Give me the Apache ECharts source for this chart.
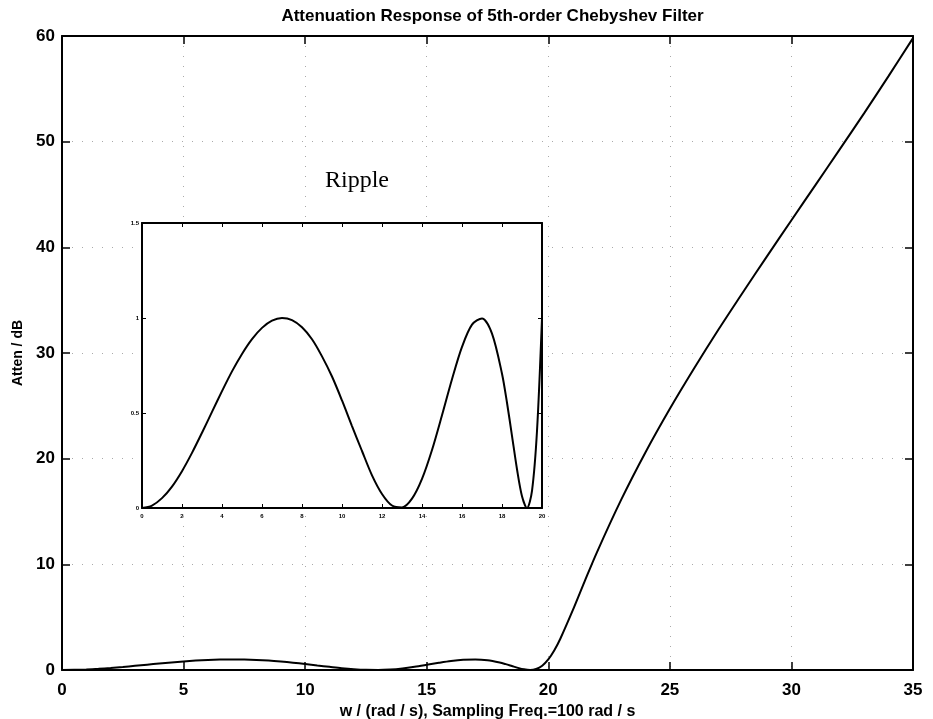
<!DOCTYPE html>
<html>
<head>
<meta charset="utf-8">
<script src="https://cdn.jsdelivr.net/npm/echarts@6/dist/echarts.min.js"></script>
<style>
  html, body { margin: 0; padding: 0; background: #fff; }
  #chart { width: 933px; height: 719px; }
</style>
</head>
<body>
<div id="chart"></div>
<script>
// Passband of the 5th-order Chebyshev filter (1 dB ripple), w in rad/s, attenuation in dB
const passW = [0, 0.5, 1, 1.5, 2, 2.5, 3, 3.5, 4, 4.5, 5, 5.5, 6, 6.5, 7, 7.5, 8, 8.5, 9, 9.5,
  10, 10.5, 11, 11.5, 12, 12.5, 13, 13.5, 14, 14.5, 15, 15.5, 16, 16.5, 17, 17.5, 18,
  18.25, 18.5, 18.75, 19, 19.25, 19.5, 19.75, 20];
const passA = [0, 0.013, 0.052, 0.113, 0.194, 0.290, 0.396, 0.506, 0.615, 0.719, 0.811, 0.889,
  0.948, 0.986, 1.000, 0.989, 0.951, 0.888, 0.798, 0.692, 0.566, 0.431, 0.300, 0.172, 0.074,
  0.013, 0.003, 0.049, 0.153, 0.305, 0.488, 0.678, 0.848, 0.965, 0.998, 0.918, 0.707,
  0.554, 0.380, 0.204, 0.062, 0.000, 0.090, 0.405, 1.000];

// Stopband
const stopW = [20.25, 20.5, 21, 21.5, 22, 23, 24, 25, 26, 27, 28, 29, 30, 31, 32, 33, 34, 35];
const stopA = [1.87, 2.98, 5.61, 8.41, 11.14, 16.12, 20.61, 24.72, 28.55, 32.22, 35.73, 39.17,
  42.56, 45.94, 49.32, 52.72, 56.23, 59.80];

// Axis ticks
const mainXTicks = [0, 5, 10, 15, 20, 25, 30, 35];
const mainYTicks = [0, 10, 20, 30, 40, 50, 60];
const insetXTicks = [0, 2, 4, 6, 8, 10, 12, 14, 16, 18, 20];
const insetYTicks = [0, 0.5, 1, 1.5];

const titleText = 'Attenuation Response of 5th-order Chebyshev Filter';
const xName = 'w / (rad / s), Sampling Freq.=100 rad / s';
const yName = 'Atten / dB';
const insetTitle = 'Ripple';

// Layout
const MAIN = { left: 62, top: 36, width: 851, height: 634 };
const INSET = { left: 142, top: 223, width: 400, height: 285 };

const FONT = '"Liberation Sans", Arial, Helvetica, sans-serif';

const mainData = passW.concat(stopW).map((w, i) => [w, passA.concat(stopA)[i]]);
const insetData = passW.map((w, i) => [w, passA[i]]);

function boxAxis(gridIndex, pos, range, ticks, opts) {
  const step = ticks[1] - ticks[0];
  return Object.assign({
    type: 'value',
    gridIndex: gridIndex,
    position: pos,
    min: range[0],
    max: range[1],
    interval: step,
    axisLine: { show: true, onZero: false, lineStyle: { color: '#000', width: 2 } },
    axisTick: { show: true, inside: true, length: 8, lineStyle: { color: '#000', width: 1.5 } },
    splitLine: { show: false },
    axisLabel: { show: false }
  }, opts || {});
}

const labelStyle = (size) => ({
  show: true, color: '#000', fontFamily: FONT, fontWeight: 'bold', fontSize: size
});

const dotted = { show: true, lineStyle: { color: '#aaa', width: 1, type: [1, 9] } };
const smallTick = { show: true, inside: true, length: 4, lineStyle: { color: '#000', width: 1 } };

const option = {
  backgroundColor: '#fff',
  animation: false,
  title: {
    text: titleText,
    left: MAIN.left + MAIN.width / 2,
    textAlign: 'center',
    top: 3,
    textStyle: { fontFamily: FONT, fontWeight: 'bold', fontSize: 17, color: '#000' }
  },
  grid: [
    { left: MAIN.left, top: MAIN.top, width: MAIN.width, height: MAIN.height,
      containLabel: false, outerBoundsMode: 'none' },
    { left: INSET.left, top: INSET.top, width: INSET.width, height: INSET.height,
      containLabel: false, outerBoundsMode: 'none' }
  ],
  xAxis: [
    boxAxis(0, 'bottom', [0, 35], mainXTicks, {
      axisLabel: Object.assign(labelStyle(17), { margin: 12 }),
      splitLine: dotted,
      name: xName,
      nameLocation: 'middle',
      nameGap: 26,
      nameTextStyle: { fontFamily: FONT, fontWeight: 'bold', fontSize: 16, color: '#000' }
    }),
    boxAxis(0, 'top', [0, 35], mainXTicks),
    boxAxis(1, 'bottom', [0, 20], insetXTicks, {
      z: 5,
      axisTick: smallTick,
      axisLabel: Object.assign(labelStyle(6), { margin: 5 })
    }),
    boxAxis(1, 'top', [0, 20], insetXTicks, { z: 5, axisTick: smallTick })
  ],
  yAxis: [
    boxAxis(0, 'left', [0, 60], mainYTicks, {
      axisLabel: Object.assign(labelStyle(17), { margin: 7 }),
      splitLine: dotted,
      name: yName,
      nameLocation: 'middle',
      nameGap: 37,
      nameTextStyle: { fontFamily: FONT, fontWeight: 'bold', fontSize: 14, color: '#000' }
    }),
    boxAxis(0, 'right', [0, 60], mainYTicks),
    boxAxis(1, 'left', [0, 1.5], insetYTicks, {
      z: 5,
      axisTick: smallTick,
      axisLabel: Object.assign(labelStyle(6), { margin: 3 })
    }),
    boxAxis(1, 'right', [0, 1.5], insetYTicks, { z: 5, axisTick: smallTick })
  ],
  graphic: [
    {
      // white panel behind the inset axes, hiding the main grid dots
      type: 'rect',
      z: 3,
      shape: { x: INSET.left, y: INSET.top, width: INSET.width, height: INSET.height },
      style: { fill: '#fff' }
    },
    {
      type: 'text',
      z: 6,
      left: INSET.left + 183,
      top: INSET.top - 54,
      style: {
        text: insetTitle,
        fill: '#000',
        font: '24px "Liberation Serif", "Times New Roman", serif'
      }
    }
  ],
  series: [
    {
      type: 'line',
      xAxisIndex: 0,
      yAxisIndex: 0,
      data: mainData,
      showSymbol: false,
      smooth: 0.3,
      lineStyle: { color: '#000', width: 2 },
      z: 2
    },
    {
      type: 'line',
      xAxisIndex: 2,
      yAxisIndex: 2,
      data: insetData,
      showSymbol: false,
      smooth: 0.3,
      lineStyle: { color: '#000', width: 2 },
      z: 6
    }
  ]
};

const chart = echarts.init(document.getElementById('chart'), null, { renderer: 'canvas' });
chart.setOption(option);
</script>
</body>
</html>
